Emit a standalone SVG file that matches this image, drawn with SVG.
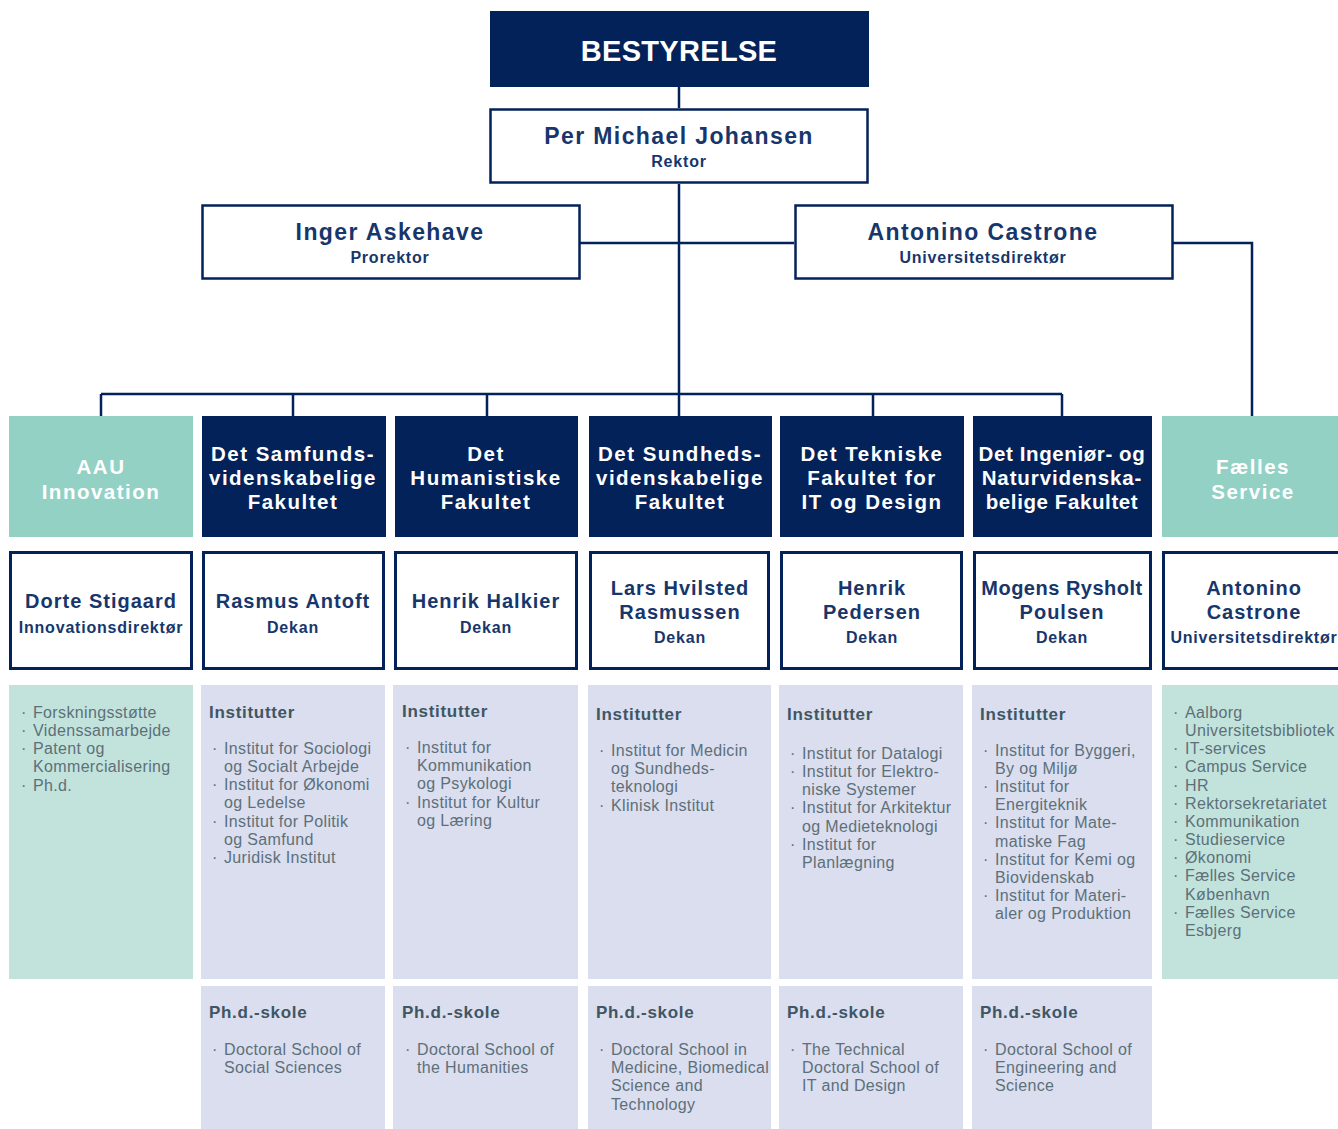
<svg xmlns="http://www.w3.org/2000/svg" width="1338" height="1129" viewBox="0 0 1338 1129">
<style>
.navy{fill:#03225a}
.teal{fill:#93d1c4}
.lteal{fill:#c2e3dc}
.lav{fill:#dadeef}
.box{fill:#ffffff;stroke:#03225a;stroke-width:3}
.con{stroke:#03225a;stroke-width:2.5;fill:none}
text{font-family:"Liberation Sans",Arial,sans-serif}
.big{font-size:29px;font-weight:bold;fill:#ffffff;text-anchor:middle;letter-spacing:0.3px}
.top{font-size:23px;font-weight:bold;fill:#17366b;text-anchor:middle;letter-spacing:1.4px}
.fac{font-size:20.5px;font-weight:bold;fill:#ffffff;text-anchor:middle;letter-spacing:1.5px}
.nm{font-size:20px;font-weight:bold;fill:#17366b;text-anchor:middle;letter-spacing:1px}
.sub{font-size:16px;font-weight:bold;fill:#17366b;text-anchor:middle;letter-spacing:0.8px}
.hd{font-size:17px;font-weight:bold;fill:#3f5663;letter-spacing:0.7px}
.it{font-size:16px;fill:#5d7079;letter-spacing:0.35px}
</style>

<g id="connectors">
<path class="con" d="M679 87V108"/>
<path class="con" d="M679 184V416"/>
<path class="con" d="M580 243H794"/>
<path class="con" d="M1173 243H1252V416"/>
<path class="con" d="M101 394H1062"/>
<path class="con" d="M101 394V416M293 394V416M487 394V416M873 394V416M1062 394V416"/>
</g>

<g id="bestyrelse">
<rect class="navy" x="490" y="11" width="379" height="76"/>
<text class="big" x="679" y="61">BESTYRELSE</text>
</g>

<g id="rektor">
<rect class="box" x="490.5" y="109.5" width="377" height="73" style="stroke-width:2.5"/>
<text class="top" x="679" y="144">Per Michael Johansen</text>
<text class="sub" x="679" y="167">Rektor</text>
</g>

<g id="prorektor">
<rect class="box" x="202.5" y="205.5" width="377" height="73" style="stroke-width:2.5"/>
<text class="top" x="390" y="240">Inger Askehave</text>
<text class="sub" x="390" y="263">Prorektor</text>
</g>

<g id="universitetsdirektor">
<rect class="box" x="795.5" y="205.5" width="377" height="73" style="stroke-width:2.5"/>
<text class="top" x="983" y="240">Antonino Castrone</text>
<text class="sub" x="983" y="263">Universitetsdirektør</text>
</g>

<!-- Column 1: AAU Innovation -->
<g id="aau-innovation">
<rect class="teal" x="9" y="416" width="184" height="121"/>
<text class="fac" x="101" y="474">AAU</text>
<text class="fac" x="101" y="499">Innovation</text>
</g>
<g id="aau-leder">
<rect class="box" x="10.5" y="552.5" width="181" height="116"/>
<text class="nm" x="101" y="608">Dorte Stigaard</text>
<text class="sub" x="101" y="633">Innovationsdirektør</text>
</g>
<g id="aau-liste">
<rect class="lteal" x="9" y="685" width="184" height="294"/>
<text class="it" x="21" y="718">·</text><text class="it" x="33" y="718">Forskningsstøtte</text>
<text class="it" x="21" y="736">·</text><text class="it" x="33" y="736">Videnssamarbejde</text>
<text class="it" x="21" y="754">·</text><text class="it" x="33" y="754">Patent og</text>
<text class="it" x="33" y="772">Kommercialisering</text>
<text class="it" x="21" y="791">·</text><text class="it" x="33" y="791">Ph.d.</text>
</g>

<!-- Column 2: Samfund -->
<g id="samf-fakultet">
<rect class="navy" x="202" y="416" width="184" height="121"/>
<text class="fac" x="293" y="461">Det Samfunds-</text>
<text class="fac" x="293" y="485">videnskabelige</text>
<text class="fac" x="293" y="509">Fakultet</text>
</g>
<g id="samf-dekan">
<rect class="box" x="203.5" y="552.5" width="180" height="116"/>
<text class="nm" x="293" y="608">Rasmus Antoft</text>
<text class="sub" x="293" y="633">Dekan</text>
</g>
<g id="samf-institutter">
<rect class="lav" x="201" y="685" width="184" height="294"/>
<text class="hd" x="209" y="718">Institutter</text>
<text class="it" x="212" y="754">·</text><text class="it" x="224" y="754">Institut for Sociologi</text>
<text class="it" x="224" y="772">og Socialt Arbejde</text>
<text class="it" x="212" y="790">·</text><text class="it" x="224" y="790">Institut for Økonomi</text>
<text class="it" x="224" y="808">og Ledelse</text>
<text class="it" x="212" y="827">·</text><text class="it" x="224" y="827">Institut for Politik</text>
<text class="it" x="224" y="845">og Samfund</text>
<text class="it" x="212" y="863">·</text><text class="it" x="224" y="863">Juridisk Institut</text>
</g>
<g id="samf-phd">
<rect class="lav" x="201" y="986" width="184" height="143"/>
<text class="hd" x="209" y="1018">Ph.d.-skole</text>
<text class="it" x="212" y="1055">·</text><text class="it" x="224" y="1055">Doctoral School of</text>
<text class="it" x="224" y="1073">Social Sciences</text>
</g>

<!-- Column 3: Humanistiske -->
<g id="hum-fakultet">
<rect class="navy" x="395" y="416" width="183" height="121"/>
<text class="fac" x="486" y="461">Det</text>
<text class="fac" x="486" y="485">Humanistiske</text>
<text class="fac" x="486" y="509">Fakultet</text>
</g>
<g id="hum-dekan">
<rect class="box" x="395.5" y="552.5" width="181" height="116"/>
<text class="nm" x="486" y="608">Henrik Halkier</text>
<text class="sub" x="486" y="633">Dekan</text>
</g>
<g id="hum-institutter">
<rect class="lav" x="393" y="685" width="185" height="294"/>
<text class="hd" x="402" y="717">Institutter</text>
<text class="it" x="405" y="753">·</text><text class="it" x="417" y="753">Institut for</text>
<text class="it" x="417" y="771">Kommunikation</text>
<text class="it" x="417" y="789">og Psykologi</text>
<text class="it" x="405" y="808">·</text><text class="it" x="417" y="808">Institut for Kultur</text>
<text class="it" x="417" y="826">og Læring</text>
</g>
<g id="hum-phd">
<rect class="lav" x="393" y="986" width="185" height="143"/>
<text class="hd" x="402" y="1018">Ph.d.-skole</text>
<text class="it" x="405" y="1055">·</text><text class="it" x="417" y="1055">Doctoral School of</text>
<text class="it" x="417" y="1073">the Humanities</text>
</g>

<!-- Column 4: Sundheds -->
<g id="sund-fakultet">
<rect class="navy" x="589" y="416" width="183" height="121"/>
<text class="fac" x="680" y="461">Det Sundheds-</text>
<text class="fac" x="680" y="485">videnskabelige</text>
<text class="fac" x="680" y="509">Fakultet</text>
</g>
<g id="sund-dekan">
<rect class="box" x="590.5" y="552.5" width="178" height="116"/>
<text class="nm" x="680" y="595">Lars Hvilsted</text>
<text class="nm" x="680" y="619">Rasmussen</text>
<text class="sub" x="680" y="643">Dekan</text>
</g>
<g id="sund-institutter">
<rect class="lav" x="588" y="685" width="183" height="294"/>
<text class="hd" x="596" y="720">Institutter</text>
<text class="it" x="599" y="756">·</text><text class="it" x="611" y="756">Institut for Medicin</text>
<text class="it" x="611" y="774">og Sundheds-</text>
<text class="it" x="611" y="792">teknologi</text>
<text class="it" x="599" y="811">·</text><text class="it" x="611" y="811">Klinisk Institut</text>
</g>
<g id="sund-phd">
<rect class="lav" x="588" y="986" width="183" height="143"/>
<text class="hd" x="596" y="1018">Ph.d.-skole</text>
<text class="it" x="599" y="1055">·</text><text class="it" x="611" y="1055">Doctoral School in</text>
<text class="it" x="611" y="1073">Medicine, Biomedical</text>
<text class="it" x="611" y="1091">Science and</text>
<text class="it" x="611" y="1110">Technology</text>
</g>

<!-- Column 5: Tekniske -->
<g id="tek-fakultet">
<rect class="navy" x="780" y="416" width="184" height="121"/>
<text class="fac" x="872" y="461">Det Tekniske</text>
<text class="fac" x="872" y="485">Fakultet for</text>
<text class="fac" x="872" y="509">IT og Design</text>
</g>
<g id="tek-dekan">
<rect class="box" x="781.5" y="552.5" width="180" height="116"/>
<text class="nm" x="872" y="595">Henrik</text>
<text class="nm" x="872" y="619">Pedersen</text>
<text class="sub" x="872" y="643">Dekan</text>
</g>
<g id="tek-institutter">
<rect class="lav" x="779" y="685" width="184" height="294"/>
<text class="hd" x="787" y="720">Institutter</text>
<text class="it" x="790" y="759">·</text><text class="it" x="802" y="759">Institut for Datalogi</text>
<text class="it" x="790" y="777">·</text><text class="it" x="802" y="777">Institut for Elektro-</text>
<text class="it" x="802" y="795">niske Systemer</text>
<text class="it" x="790" y="813">·</text><text class="it" x="802" y="813">Institut for Arkitektur</text>
<text class="it" x="802" y="832">og Medieteknologi</text>
<text class="it" x="790" y="850">·</text><text class="it" x="802" y="850">Institut for</text>
<text class="it" x="802" y="868">Planlægning</text>
</g>
<g id="tek-phd">
<rect class="lav" x="779" y="986" width="184" height="143"/>
<text class="hd" x="787" y="1018">Ph.d.-skole</text>
<text class="it" x="790" y="1055">·</text><text class="it" x="802" y="1055">The Technical</text>
<text class="it" x="802" y="1073">Doctoral School of</text>
<text class="it" x="802" y="1091">IT and Design</text>
</g>

<!-- Column 6: Ingeniør -->
<g id="ing-fakultet">
<rect class="navy" x="973" y="416" width="179" height="121"/>
<text class="fac" x="1062" y="461" style="letter-spacing:0.6px">Det Ingeniør- og</text>
<text class="fac" x="1062" y="485" style="letter-spacing:0.9px">Naturvidenska-</text>
<text class="fac" x="1062" y="509" style="letter-spacing:0.6px">belige Fakultet</text>
</g>
<g id="ing-dekan">
<rect class="box" x="974.5" y="552.5" width="176" height="116"/>
<text class="nm" x="1062" y="595" style="letter-spacing:0.5px">Mogens Rysholt</text>
<text class="nm" x="1062" y="619">Poulsen</text>
<text class="sub" x="1062" y="643">Dekan</text>
</g>
<g id="ing-institutter">
<rect class="lav" x="972" y="685" width="180" height="294"/>
<text class="hd" x="980" y="720">Institutter</text>
<text class="it" x="983" y="756">·</text><text class="it" x="995" y="756">Institut for Byggeri,</text>
<text class="it" x="995" y="774">By og Miljø</text>
<text class="it" x="983" y="792">·</text><text class="it" x="995" y="792">Institut for</text>
<text class="it" x="995" y="810">Energiteknik</text>
<text class="it" x="983" y="828">·</text><text class="it" x="995" y="828">Institut for Mate-</text>
<text class="it" x="995" y="847">matiske Fag</text>
<text class="it" x="983" y="865">·</text><text class="it" x="995" y="865">Institut for Kemi og</text>
<text class="it" x="995" y="883">Biovidenskab</text>
<text class="it" x="983" y="901">·</text><text class="it" x="995" y="901">Institut for Materi-</text>
<text class="it" x="995" y="919">aler og Produktion</text>
</g>
<g id="ing-phd">
<rect class="lav" x="972" y="986" width="180" height="143"/>
<text class="hd" x="980" y="1018">Ph.d.-skole</text>
<text class="it" x="983" y="1055">·</text><text class="it" x="995" y="1055">Doctoral School of</text>
<text class="it" x="995" y="1073">Engineering and</text>
<text class="it" x="995" y="1091">Science</text>
</g>

<!-- Column 7: Fælles Service -->
<g id="faelles-service">
<rect class="teal" x="1162" y="416" width="176" height="121"/>
<text class="fac" x="1253" y="474">Fælles</text>
<text class="fac" x="1253" y="499">Service</text>
</g>
<g id="faelles-leder">
<rect class="box" x="1163.5" y="552.5" width="185" height="116"/>
<text class="nm" x="1254" y="595">Antonino</text>
<text class="nm" x="1254" y="619">Castrone</text>
<text class="sub" x="1254" y="643">Universitetsdirektør</text>
</g>
<g id="faelles-liste">
<rect class="lteal" x="1162" y="685" width="176" height="294"/>
<text class="it" x="1173" y="718">·</text><text class="it" x="1185" y="718">Aalborg</text>
<text class="it" x="1185" y="736">Universitetsbibliotek</text>
<text class="it" x="1173" y="754">·</text><text class="it" x="1185" y="754">IT-services</text>
<text class="it" x="1173" y="772">·</text><text class="it" x="1185" y="772">Campus Service</text>
<text class="it" x="1173" y="791">·</text><text class="it" x="1185" y="791">HR</text>
<text class="it" x="1173" y="809">·</text><text class="it" x="1185" y="809">Rektorsekretariatet</text>
<text class="it" x="1173" y="827">·</text><text class="it" x="1185" y="827">Kommunikation</text>
<text class="it" x="1173" y="845">·</text><text class="it" x="1185" y="845">Studieservice</text>
<text class="it" x="1173" y="863">·</text><text class="it" x="1185" y="863">Økonomi</text>
<text class="it" x="1173" y="881">·</text><text class="it" x="1185" y="881">Fælles Service</text>
<text class="it" x="1185" y="900">København</text>
<text class="it" x="1173" y="918">·</text><text class="it" x="1185" y="918">Fælles Service</text>
<text class="it" x="1185" y="936">Esbjerg</text>
</g>
</svg>
